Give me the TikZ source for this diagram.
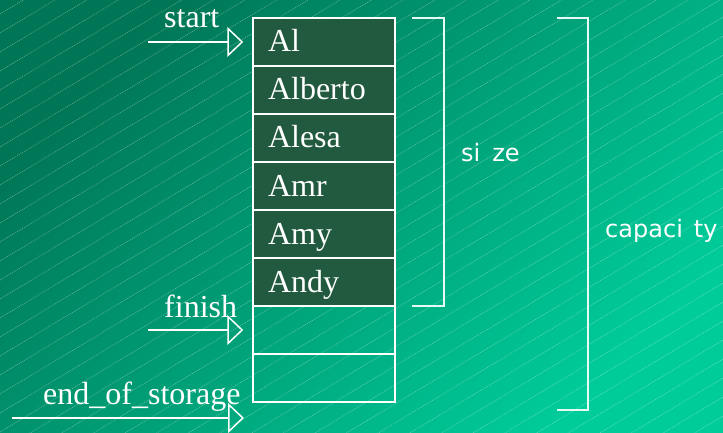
\documentclass[tikz,border=0pt]{standalone}
\usepackage{fontspec}
\setmainfont{Liberation Serif}
\newfontfamily\labsans{DejaVu Sans}
\usetikzlibrary{arrows.meta}
\definecolor{bgdark}{RGB}{0,118,86}
\definecolor{bglight}{RGB}{0,204,154}
\definecolor{cellfill}{RGB}{33,90,62}
\tikzset{
  cellbox/.style={draw=white, line width=1.5pt, minimum width=142pt, minimum height=48pt,
    inner xsep=15pt, inner ysep=0pt, text width=112pt, align=left,
    text height=24pt, text depth=4pt, text=white, font=\fontsize{32}{32}\selectfont},
  used/.style={cellbox, fill=cellfill},
  free/.style={cellbox},
  ptrlabel/.style={anchor=base west, inner sep=0pt, text=white, font=\fontsize{32}{32}\selectfont},
  ptr/.style={draw=white, line width=1.5pt, -{Triangle[open, length=16pt, width=30pt]}},
  brack/.style={draw=white!90!bglight, line width=1.5pt},
  brlabel/.style={anchor=base west, inner sep=0pt, text=white, font=\labsans\fontsize{24}{24}\selectfont},
  hatch/.style={white, opacity=0.33, line width=0.7pt, dash pattern=on 1pt off 1pt}
}
\begin{document}
\begin{tikzpicture}[x=1pt, y=1pt]
\useasboundingbox (0,0) rectangle (723,432);
\shade[top color=bgdark, bottom color=bglight, shading angle=45] (0,0) rectangle (723,432);
\begin{scope}
  \clip (0,0) rectangle (723,432);
  \foreach \k in {-24,...,24} {
    \draw[hatch] (0,{19*\k}) -- (723,{19*\k+434});
  }
\end{scope}
% cells
\node[used] (c1) at (324,390) {Al};
\node[used] (c2) at (324,342) {Alberto};
\node[used] (c3) at (324,294) {Alesa};
\node[used] (c4) at (324,246) {Amr};
\node[used] (c5) at (324,198) {Amy};
\node[used] (c6) at (324,150) {Andy};
\node[free] (c7) at (324,102) {};
\node[free] (c8) at (324,54) {};
% pointers
\node[ptrlabel] (lstart) at (164,404) {start};
\node[ptrlabel] (lfinish) at (164,115) {finish};
\node[ptrlabel] (leos) at (43,28) {end\_of\_storage};
\coordinate (sstart) at (148,390);
\coordinate (sfinish) at (148,102);
\coordinate (seos) at (12,14);
\coordinate (teos) at (244,14);
\draw[ptr, shorten >=9pt] (sstart) -- (c1.west);
\draw[ptr, shorten >=9pt] (sfinish) -- (c7.west);
\draw[ptr] (seos) -- (teos);
% brackets
\coordinate (sz1) at (412,414);
\coordinate (sz2) at (444,126);
\coordinate (sz3) at (412,126);
\draw[brack] (sz1) -| (sz2) -- (sz3);
\coordinate (cp1) at (557,414);
\coordinate (cp2) at (588,22);
\coordinate (cp3) at (557,22);
\draw[brack] (cp1) -| (cp2) -- (cp3);
\node[brlabel] (lsize) at (461,270) {\spaceskip=12pt si ze};
\node[brlabel] (lcap) at (605,195) {\spaceskip=11pt capaci ty};
\end{tikzpicture}
\end{document}
